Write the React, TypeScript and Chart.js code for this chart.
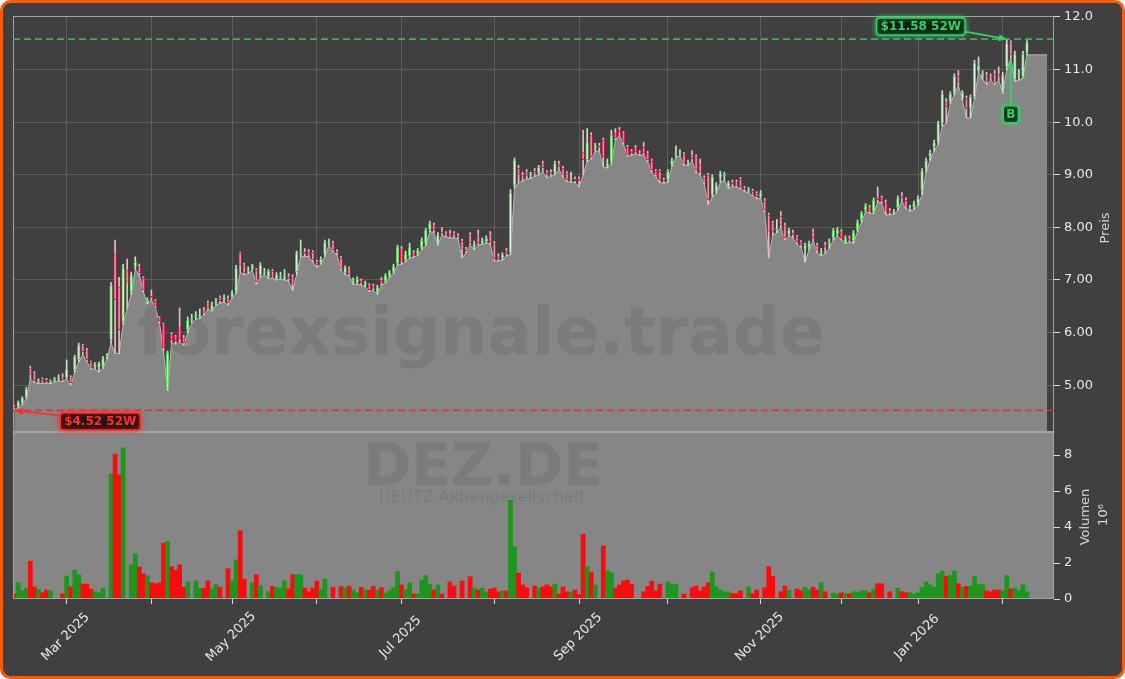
import React, { useEffect, useRef } from 'react';
import { Chart, registerables } from 'chart.js';

Chart.register(...registerables);

// ---------- data (trading-day index 0 = 12 Feb 2025 ... 251 = 10 Feb 2026) ----------
const opens = [
  4.60, 4.59, 4.65, 4.76, 5.33, 5.22, 5.05, 5.12, 5.10, 5.05,
  5.08, 5.12, 5.16, 5.14, 5.15, 5.29, 5.48, 5.76, 5.66, 5.44,
  5.34, 5.33, 5.35, 5.54, 5.86, 7.50, 6.87, 6.20, 7.20, 6.77,
  7.25, 7.25, 7.04, 6.58, 6.70, 6.60, 6.28, 6.16, 4.95, 5.97,
  5.92, 6.10, 5.90, 6.05, 6.22, 6.28, 6.30, 6.42, 6.56, 6.43,
  6.55, 6.66, 6.62, 6.65, 6.68, 6.77, 7.51, 7.29, 7.16, 7.22,
  7.19, 7.10, 7.14, 7.06, 7.17, 7.02, 7.05, 7.03, 7.07, 7.05,
  7.15, 7.50, 7.53, 7.53, 7.53, 7.34, 7.32, 7.48, 7.70, 7.70,
  7.54, 7.42, 7.13, 7.22, 6.95, 6.95, 6.99, 6.90, 6.90, 6.88,
  6.77, 7.00, 6.98, 7.08, 7.16, 7.32, 7.60, 7.38, 7.45, 7.52,
  7.50, 7.61, 7.70, 7.95, 8.04, 7.70, 7.92, 7.88, 7.88, 7.89,
  7.84, 7.74, 7.58, 7.86, 7.61, 7.86, 7.70, 7.72, 7.86, 7.70,
  7.45, 7.42, 7.55, 7.52, 8.80, 9.13, 9.00, 9.05, 8.98, 9.07,
  9.03, 9.22, 9.05, 9.05, 9.03, 9.21, 9.13, 9.03, 8.90, 8.92,
  8.93, 9.43, 9.28, 9.75, 9.50, 9.55, 9.66, 9.16, 9.25, 9.80,
  9.85, 9.79, 9.53, 9.45, 9.52, 9.42, 9.53, 9.41, 9.26, 9.07,
  9.07, 8.90, 8.90, 9.19, 9.37, 9.40, 9.39, 9.22, 9.37, 9.34,
  9.20, 8.94, 9.00, 8.62, 8.68, 8.95, 8.97, 8.77, 8.86, 8.86,
  8.92, 8.75, 8.69, 8.69, 8.65, 8.58, 8.50, 8.24, 8.08, 7.95,
  8.22, 8.04, 7.87, 7.90, 7.82, 7.72, 7.58, 7.62, 7.92, 7.66,
  7.50, 7.66, 7.68, 7.80, 7.88, 7.92, 7.72, 7.81, 7.74, 7.95,
  8.14, 8.33, 8.38, 8.29, 8.57, 8.56, 8.48, 8.32, 8.28, 8.37,
  8.60, 8.52, 8.34, 8.38, 8.46, 8.70, 9.12, 9.34, 9.53, 9.62,
  9.98, 10.38, 10.38, 10.56, 10.88, 10.46, 10.46, 10.27, 10.48, 10.99,
  10.88, 10.90, 10.87, 10.92, 10.92, 10.58, 11.05, 11.50, 10.80, 10.90,
  10.86, 11.32,
];

const highs = [
  4.62, 4.70, 4.78, 4.96, 5.36, 5.26, 5.12, 5.14, 5.13, 5.10,
  5.15, 5.20, 5.22, 5.48, 5.18, 5.57, 5.80, 5.78, 5.70, 5.46,
  5.43, 5.44, 5.55, 5.60, 6.95, 7.76, 7.05, 7.30, 7.40, 7.15,
  7.44, 7.30, 7.06, 6.66, 6.81, 6.63, 6.30, 6.18, 5.65, 6.00,
  5.95, 6.47, 5.95, 6.30, 6.35, 6.40, 6.45, 6.48, 6.60, 6.58,
  6.65, 6.70, 6.72, 6.70, 6.80, 7.28, 7.53, 7.32, 7.25, 7.30,
  7.22, 7.33, 7.22, 7.20, 7.20, 7.14, 7.15, 7.20, 7.12, 7.10,
  7.55, 7.76, 7.60, 7.58, 7.56, 7.38, 7.44, 7.76, 7.78, 7.74,
  7.58, 7.45, 7.27, 7.25, 7.04, 7.06, 7.02, 6.98, 6.93, 6.92,
  6.90, 7.05, 7.12, 7.18, 7.30, 7.66, 7.64, 7.55, 7.70, 7.56,
  7.60, 7.80, 7.98, 8.12, 8.08, 7.90, 8.00, 7.92, 7.95, 7.92,
  7.88, 7.78, 7.62, 7.90, 7.74, 7.95, 7.80, 7.84, 7.92, 7.73,
  7.50, 7.52, 7.60, 8.72, 9.32, 9.18, 9.05, 9.10, 9.05, 9.12,
  9.18, 9.26, 9.08, 9.10, 9.26, 9.26, 9.16, 9.06, 9.05, 8.96,
  8.96, 9.85, 9.88, 9.80, 9.60, 9.60, 9.70, 9.30, 9.85, 9.88,
  9.90, 9.82, 9.56, 9.48, 9.56, 9.46, 9.62, 9.45, 9.30, 9.10,
  9.10, 8.94, 9.10, 9.32, 9.55, 9.48, 9.42, 9.28, 9.46, 9.38,
  9.30, 8.98, 9.03, 9.00, 8.85, 9.07, 9.05, 8.88, 8.90, 8.90,
  8.95, 8.78, 8.76, 8.73, 8.68, 8.70, 8.55, 8.27, 8.12, 8.15,
  8.30, 8.08, 7.98, 7.95, 7.85, 7.75, 7.70, 7.74, 7.97, 7.70,
  7.60, 7.72, 7.78, 7.98, 8.00, 7.96, 7.84, 7.84, 7.94, 8.14,
  8.30, 8.45, 8.42, 8.56, 8.77, 8.60, 8.52, 8.36, 8.34, 8.60,
  8.66, 8.56, 8.42, 8.50, 8.60, 9.12, 9.32, 9.47, 9.66, 10.02,
  10.60, 10.45, 10.58, 10.92, 10.98, 10.60, 10.50, 10.52, 11.18, 11.24,
  10.98, 10.95, 10.92, 10.98, 11.05, 10.95, 11.58, 11.55, 11.35, 11.00,
  11.35, 11.55,
];

const lows = [
  4.52, 4.57, 4.63, 4.74, 5.12, 5.05, 5.03, 5.03, 5.04, 5.03,
  5.06, 5.08, 5.07, 5.12, 5.00, 5.25, 5.45, 5.58, 5.45, 5.30,
  5.31, 5.25, 5.32, 5.50, 5.80, 5.61, 5.60, 6.15, 6.45, 6.72,
  7.20, 7.10, 6.78, 6.55, 6.62, 6.48, 6.18, 5.65, 4.90, 5.80,
  5.78, 5.82, 5.76, 6.00, 6.18, 6.25, 6.27, 6.34, 6.45, 6.41,
  6.52, 6.56, 6.58, 6.52, 6.66, 6.74, 7.15, 7.10, 7.12, 7.18,
  6.92, 7.05, 7.10, 7.03, 7.03, 7.00, 7.02, 7.00, 6.98, 6.80,
  7.10, 7.45, 7.45, 7.44, 7.34, 7.24, 7.30, 7.45, 7.66, 7.54,
  7.48, 7.18, 7.10, 7.08, 6.92, 6.92, 6.90, 6.87, 6.78, 6.80,
  6.73, 6.90, 6.95, 7.05, 7.13, 7.28, 7.30, 7.35, 7.42, 7.43,
  7.47, 7.58, 7.66, 7.92, 7.90, 7.66, 7.85, 7.82, 7.80, 7.80,
  7.78, 7.42, 7.52, 7.66, 7.58, 7.66, 7.68, 7.70, 7.68, 7.36,
  7.36, 7.38, 7.46, 7.48, 8.75, 8.85, 8.88, 8.92, 8.93, 8.97,
  9.00, 9.05, 8.94, 8.97, 9.00, 9.10, 8.96, 8.87, 8.86, 8.85,
  8.77, 9.00, 9.25, 9.30, 9.45, 9.45, 9.15, 9.13, 9.20, 9.66,
  9.75, 9.58, 9.35, 9.37, 9.40, 9.37, 9.38, 9.25, 9.05, 8.97,
  8.85, 8.84, 8.86, 9.16, 9.33, 9.36, 9.18, 9.18, 9.26, 9.05,
  9.00, 8.82, 8.43, 8.58, 8.65, 8.85, 8.90, 8.74, 8.78, 8.76,
  8.74, 8.68, 8.66, 8.60, 8.55, 8.55, 8.30, 7.42, 7.85, 7.90,
  8.00, 7.76, 7.84, 7.80, 7.68, 7.62, 7.34, 7.58, 7.75, 7.52,
  7.46, 7.50, 7.60, 7.76, 7.84, 7.76, 7.70, 7.72, 7.70, 7.92,
  8.10, 8.30, 8.27, 8.26, 8.48, 8.46, 8.24, 8.24, 8.25, 8.33,
  8.50, 8.36, 8.31, 8.34, 8.42, 8.62, 9.05, 9.28, 9.45, 9.58,
  9.92, 9.98, 10.35, 10.52, 10.70, 10.42, 10.08, 10.08, 10.45, 10.95,
  10.82, 10.72, 10.80, 10.72, 10.80, 10.55, 11.00, 11.22, 10.78, 10.80,
  10.84, 11.28,
];

const closes = [
  4.56, 4.68, 4.76, 4.93, 5.20, 5.08, 5.09, 5.05, 5.06, 5.08,
  5.12, 5.14, 5.10, 5.31, 5.04, 5.54, 5.76, 5.63, 5.48, 5.33,
  5.40, 5.42, 5.52, 5.57, 6.90, 6.62, 6.05, 7.23, 6.95, 7.10,
  7.34, 7.13, 6.81, 6.62, 6.66, 6.50, 6.22, 5.70, 5.61, 5.86,
  5.84, 5.88, 5.80, 6.24, 6.26, 6.33, 6.35, 6.37, 6.47, 6.52,
  6.60, 6.60, 6.68, 6.56, 6.76, 7.23, 7.29, 7.13, 7.20, 7.28,
  6.96, 7.29, 7.16, 7.17, 7.06, 7.10, 7.08, 7.08, 7.02, 6.92,
  7.51, 7.53, 7.49, 7.47, 7.38, 7.28, 7.40, 7.72, 7.72, 7.57,
  7.52, 7.22, 7.24, 7.11, 7.00, 7.02, 6.94, 6.95, 6.81, 6.84,
  6.86, 6.94, 7.08, 7.15, 7.25, 7.62, 7.35, 7.50, 7.62, 7.46,
  7.56, 7.76, 7.95, 8.08, 7.95, 7.86, 7.89, 7.86, 7.82, 7.86,
  7.82, 7.58, 7.55, 7.70, 7.70, 7.70, 7.76, 7.80, 7.72, 7.40,
  7.40, 7.48, 7.50, 8.65, 9.28, 9.00, 8.95, 8.98, 9.00, 9.02,
  9.15, 9.13, 9.00, 9.02, 9.22, 9.15, 9.00, 8.90, 8.95, 8.88,
  8.88, 9.28, 9.62, 9.34, 9.55, 9.52, 9.34, 9.22, 9.75, 9.70,
  9.79, 9.62, 9.38, 9.41, 9.43, 9.40, 9.41, 9.28, 9.09, 9.00,
  8.90, 8.88, 9.07, 9.28, 9.41, 9.42, 9.22, 9.24, 9.30, 9.09,
  9.05, 8.86, 8.52, 8.96, 8.80, 9.02, 9.00, 8.85, 8.82, 8.79,
  8.77, 8.72, 8.72, 8.62, 8.58, 8.65, 8.33, 7.92, 7.91, 7.98,
  8.05, 7.80, 7.95, 7.85, 7.72, 7.66, 7.66, 7.70, 7.80, 7.56,
  7.55, 7.62, 7.72, 7.95, 7.95, 7.80, 7.80, 7.75, 7.90, 8.10,
  8.27, 8.40, 8.30, 8.52, 8.52, 8.50, 8.30, 8.28, 8.30, 8.56,
  8.55, 8.40, 8.38, 8.46, 8.56, 9.08, 9.28, 9.43, 9.62, 9.98,
  10.54, 10.29, 10.54, 10.88, 10.76, 10.56, 10.25, 10.48, 11.13, 11.07,
  10.92, 10.76, 10.85, 10.75, 10.85, 10.90, 11.50, 11.28, 11.30, 10.95,
  11.30, 11.52,
];

// volume in millions
const volumes = [
  0.28, 0.9, 0.45, 0.6, 2.1, 0.67, 0.53, 0.35, 0.5, 0.45,
  0, 0, 0.3, 1.28, 0.67, 1.6, 1.33, 0.83, 0.83, 0.55,
  0.4, 0.33, 0.6, 0, 6.93, 8.05, 6.9, 8.4, 0, 1.9,
  2.5, 1.78, 1.39, 1.28, 0.9, 0.85, 0.9, 3.1, 3.2, 1.8,
  1.6, 1.9, 0.65, 0.95, 0, 1.0, 0.6, 0.6, 1.0, 0.55,
  0.8, 0.65, 0, 1.68, 1.0, 2.17, 3.8, 1.1, 0, 0.9,
  1.35, 0.75, 0, 0.4, 0.7, 0.65, 0.6, 1.0, 0.55, 1.35,
  1.35, 1.35, 0.6, 0.4, 0.6, 1.0, 0.55, 1.1, 0, 0.65,
  0, 0.7, 0.6, 0.7, 0.5, 0.35, 0.65, 0.5, 0.5, 0.7,
  0.5, 0.63, 0.33, 0.45, 0.63, 1.52, 0.78, 0.5, 0.9, 0.28,
  0.28, 1.05, 1.3, 0.83, 0.5, 0.78, 0.28, 0, 0.95, 0.72,
  0, 1.0, 0, 1.24, 0.6, 0.5, 0.6, 0.4, 0.55, 0.6,
  0.4, 0.45, 0.45, 5.5, 2.9, 1.43, 0.78, 0.63, 0, 0.72,
  0.6, 0.67, 0.78, 0.67, 0.83, 0.28, 0.67, 0.4, 0.38, 0.5,
  0.25, 3.6, 1.8, 1.5, 0.78, 0, 2.94, 1.56, 1.46, 0.6,
  0.78, 1.0, 1.05, 0.83, 0, 0, 0.4, 0.7, 1.0, 0.45,
  0.83, 0, 0.95, 0.78, 0.83, 0, 0.28, 0, 0.63, 0.72,
  0.45, 0.67, 0.9, 1.5, 0.67, 0.5, 0.4, 0.4, 0.3, 0.3,
  0.45, 0, 0.67, 0.3, 0.5, 0, 0.63, 1.8, 1.25, 0,
  0.4, 0.72, 0.5, 0, 0.55, 0.45, 0.65, 0.5, 0.65, 0.5,
  0.9, 0.4, 0, 0.33, 0.28, 0.35, 0.3, 0.3, 0.4, 0.38,
  0.45, 0.45, 0.35, 0.55, 0.85, 0.85, 0, 0.4, 0, 0.6,
  0.4, 0.35, 0.35, 0.28, 0.35, 0.65, 0.95, 0.8, 0.65, 1.39,
  1.55, 1.25, 1.3, 1.55, 0.85, 0.65, 0.7, 0.7, 1.25, 0.8,
  0.8, 0.45, 0.4, 0.5, 0.5, 0.45, 1.3, 0.55, 0.6, 0.45,
  0.8, 0.4,
];

const monthTickIdx = [13, 34, 54, 75, 96, 119, 140, 162, 185, 205, 224, 245];
const monthTickLabels = ['Mar 2025', '', 'May 2025', '', 'Jul 2025', '', 'Sep 2025', '', 'Nov 2025', '', 'Jan 2026', ''];
const priceTicks = [5, 6, 7, 8, 9, 10, 11, 12];
const priceTickLabels = ['5.00', '6.00', '7.00', '8.00', '9.00', '10.0', '11.0', '12.0'];
const volumeTicks = [0, 2, 4, 6, 8];
const volumeTickLabels = ['0', '2', '4', '6', '8'];

const high52Idx = 246;
const high52 = 11.58;
const low52Idx = 0;
const low52 = 4.52;
const buySignalIdx = [247];
const buySignalPrice = [11.18];
const areaEndIdx = 256;

// ---------- styles ----------
const W = 1125;
const H = 679;
const BG = '#404040';
const ORANGE = '#fa5a0a';
const AREA_FILL = '#868686';
const AREA_LINE = '#b8b8b8';
const GRID = 'rgba(255,255,255,0.15)';
const TICK = '#dcdcdc';
const TICK_TEXT = '#e8e8e8';
const FRAME = '#a4a4a4';
const UP_BORDER = '#56d456';
const UP_FILL = '#dcf3dc';
const DN_BORDER = '#e2164a';
const DN_FILL = '#ff86a2';
const UP_WICK = '#c4e6c4';
const DN_WICK = '#eeb6c4';
const VOL_UP = '#1e961e';
const VOL_DN = '#f70d0d';
const GREEN = '#35d06a';
const RED = '#ff2f2f';
const WATERMARK = 'rgba(60,60,60,0.14)';

function drawArrow(ctx: CanvasRenderingContext2D, x1: number, y1: number, x2: number, y2: number, color: string) {
  const ang = Math.atan2(y2 - y1, x2 - x1);
  const hl = 8;
  const hw = 3.6;
  const bx = x2 - hl * Math.cos(ang);
  const by = y2 - hl * Math.sin(ang);
  ctx.save();
  ctx.strokeStyle = color;
  ctx.fillStyle = color;
  ctx.lineWidth = 1.8;
  ctx.beginPath();
  ctx.moveTo(x1, y1);
  ctx.lineTo(bx, by);
  ctx.stroke();
  ctx.beginPath();
  ctx.moveTo(x2, y2);
  ctx.lineTo(bx + hw * Math.sin(ang), by - hw * Math.cos(ang));
  ctx.lineTo(bx - hw * Math.sin(ang), by + hw * Math.cos(ang));
  ctx.closePath();
  ctx.fill();
  ctx.restore();
}

function drawLabelBox(ctx: CanvasRenderingContext2D, text: string, cx: number, cy: number, color: string, fill: string, padX: number) {
  ctx.save();
  ctx.font = 'bold 12px "DejaVu Sans"';
  const w = ctx.measureText(text).width + padX * 2;
  const h = 17;
  ctx.shadowColor = color;
  ctx.shadowBlur = 5;
  ctx.beginPath();
  ctx.roundRect(cx - w / 2, cy - h / 2, w, h, 3);
  ctx.fillStyle = fill;
  ctx.fill();
  ctx.lineWidth = 1.5;
  ctx.strokeStyle = color;
  ctx.stroke();
  ctx.shadowBlur = 0;
  ctx.fillStyle = color;
  ctx.textAlign = 'center';
  ctx.textBaseline = 'middle';
  ctx.fillText(text, cx, cy + 0.5);
  ctx.restore();
  return w;
}

function rotatedText(ctx: CanvasRenderingContext2D, text: string, x: number, y: number, font: string, color: string) {
  ctx.save();
  ctx.translate(x, y);
  ctx.rotate(-Math.PI / 2);
  ctx.font = font;
  ctx.fillStyle = color;
  ctx.textAlign = 'center';
  ctx.textBaseline = 'middle';
  ctx.fillText(text, 0, 0);
  ctx.restore();
}

const decorPlugin = {
  id: 'decor',
  beforeDraw(chart: any) {
    const ctx = chart.ctx;
    ctx.save();
    ctx.fillStyle = '#ffffff';
    ctx.fillRect(0, 0, W, H);
    ctx.beginPath();
    ctx.roundRect(1.5, 1.5, W - 3, H - 3, 9);
    ctx.fillStyle = BG;
    ctx.fill();
    ctx.lineWidth = 3;
    ctx.strokeStyle = ORANGE;
    ctx.stroke();
    ctx.restore();
  },
  beforeDatasetsDraw(chart: any) {
    const { ctx, chartArea } = chart;
    const yv = chart.scales.yv;
    ctx.save();
    ctx.fillStyle = AREA_FILL;
    ctx.fillRect(chartArea.left, yv.top, chartArea.right - chartArea.left, yv.bottom - yv.top);
    ctx.restore();
  },
  afterDatasetDraw(chart: any, args: any) {
    if (args.index !== 0) return;
    const ctx = chart.ctx;
    ctx.save();
    ctx.fillStyle = WATERMARK;
    ctx.textAlign = 'center';
    ctx.textBaseline = 'alphabetic';
    ctx.font = 'bold 66px "DejaVu Sans"';
    ctx.fillText('forexsignale.trade', 481, 354);
    ctx.font = 'bold 58px "DejaVu Sans"';
    ctx.fillText('DEZ.DE', 483, 485);
    ctx.font = '16px "DejaVu Sans"';
    ctx.fillText('DEUTZ Aktiengesellschaft', 482, 502);
    ctx.restore();
  },
  afterDatasetsDraw(chart: any) {
    const { ctx, chartArea } = chart;
    const xs = chart.scales.x;
    const ys = chart.scales.y;
    const yv = chart.scales.yv;
    const L = chartArea.left;
    const R = chartArea.right;
    ctx.save();
    ctx.strokeStyle = FRAME;
    ctx.lineWidth = 1;
    ctx.strokeRect(L + 0.5, ys.top + 0.5, R - L - 1, ys.bottom - ys.top - 1);
    ctx.strokeRect(L + 0.5, yv.top + 0.5, R - L - 1, yv.bottom - yv.top - 1);

    ctx.setLineDash([7, 4]);
    ctx.lineWidth = 1.8;
    const yh = ys.getPixelForValue(high52);
    ctx.strokeStyle = 'rgba(52,190,100,0.9)';
    ctx.beginPath();
    ctx.moveTo(L, yh);
    ctx.lineTo(R, yh);
    ctx.stroke();
    const yl = ys.getPixelForValue(low52);
    ctx.strokeStyle = 'rgba(215,50,50,0.85)';
    ctx.beginPath();
    ctx.moveTo(L, yl);
    ctx.lineTo(R, yl);
    ctx.stroke();
    ctx.setLineDash([]);
    ctx.restore();

    // 52W high label
    const hx = xs.getPixelForValue(high52Idx);
    const hcx = hx - 86;
    const hcy = yh - 12.5;
    const hw = drawLabelBox(ctx, '$' + high52.toFixed(2) + ' 52W', hcx, hcy, GREEN, '#0c1e12', 4);
    drawArrow(ctx, hcx + hw / 2, hcy + 5, hx, yh, GREEN);

    // 52W low label
    const lx = xs.getPixelForValue(low52Idx);
    const lcx = lx + 86;
    const lcy = yl + 11;
    const lw = drawLabelBox(ctx, '$' + low52.toFixed(2) + ' 52W', lcx, lcy, RED, '#231010', 4);
    drawArrow(ctx, lcx - lw / 2 - 1, lcy - 6, lx + 1, yl, RED);

    // buy signals
    buySignalIdx.forEach((bi, k) => {
      const bx = xs.getPixelForValue(bi);
      const by = ys.getPixelForValue(buySignalPrice[k]);
      const bcy = by + 54;
      drawArrow(ctx, bx, bcy - 9, bx, by, GREEN);
      drawLabelBox(ctx, 'B', bx, bcy, GREEN, '#0c1e12', 3);
    });
  },
  afterDraw(chart: any) {
    const ctx = chart.ctx;
    const xs = chart.scales.x;
    ctx.save();
    ctx.font = '13px "DejaVu Sans"';
    ctx.fillStyle = TICK_TEXT;
    ctx.textAlign = 'center';
    ctx.textBaseline = 'middle';
    monthTickIdx.forEach((v, k) => {
      const lab = monthTickLabels[k];
      if (!lab) return;
      const px = xs.getPixelForValue(v);
      ctx.save();
      ctx.translate(px - 1, 637);
      ctx.rotate(-Math.PI / 4);
      ctx.fillText(lab, 0, 0);
      ctx.restore();
    });
    ctx.restore();
    rotatedText(ctx, 'Preis', 1106, 228, '13px "DejaVu Sans"', '#d6d6d6');
    rotatedText(ctx, 'Volumen', 1086, 517, '13px "DejaVu Sans"', '#d6d6d6');
    rotatedText(ctx, '10⁶', 1104, 515, '13px "DejaVu Sans"', '#d6d6d6');
  },
};

export default function App() {
  const canvasRef = useRef<HTMLCanvasElement | null>(null);

  useEffect(() => {
    const canvas = canvasRef.current;
    if (!canvas) return;
    Chart.defaults.font.family = '"DejaVu Sans", sans-serif';
    Chart.defaults.font.size = 13;

    const up = closes.map((c, i) => c >= opens[i]);
    const areaData: { x: number; y: number }[] = lows.map((v, i) => ({ x: i, y: v }));
    areaData.push({ x: areaEndIdx, y: lows[lows.length - 1] });

    const config: any = {
      type: 'bar',
      data: {
        datasets: [
          {
            type: 'line',
            label: 'area',
            data: areaData,
            yAxisID: 'y',
            borderColor: AREA_LINE,
            borderWidth: 1,
            backgroundColor: AREA_FILL,
            fill: 'start',
            pointRadius: 0,
            tension: 0,
            order: 10,
          },
          {
            type: 'bar',
            label: 'wick',
            data: lows.map((l, i) => ({ x: i, y: [l, highs[i]] })),
            yAxisID: 'y',
            backgroundColor: up.map((u) => (u ? UP_WICK : DN_WICK)),
            barThickness: 1,
            grouped: false,
            order: 5,
          },
          {
            type: 'bar',
            label: 'body',
            data: opens.map((o, i) => ({ x: i, y: [o, closes[i]] })),
            yAxisID: 'y',
            backgroundColor: up.map((u) => (u ? UP_FILL : DN_FILL)),
            borderColor: up.map((u) => (u ? UP_BORDER : DN_BORDER)),
            borderWidth: 1,
            borderSkipped: false,
            barPercentage: 0.78,
            categoryPercentage: 1,
            grouped: false,
            order: 4,
          },
          {
            type: 'bar',
            label: 'volume',
            data: volumes.map((v, i) => ({ x: i, y: v })),
            yAxisID: 'yv',
            backgroundColor: up.map((u) => (u ? VOL_UP : VOL_DN)),
            barPercentage: 1,
            categoryPercentage: 1,
            grouped: false,
            order: 3,
          },
        ],
      },
      options: {
        animation: false,
        responsive: false,
        maintainAspectRatio: false,
        layout: { padding: { left: 13, top: 16, right: 0, bottom: 0 } },
        plugins: { legend: { display: false }, tooltip: { enabled: false } },
        scales: {
          x: {
            type: 'linear',
            min: -0.3,
            max: 257.7,
            bounds: 'data',
            offset: false,
            afterBuildTicks: (s: any) => {
              s.ticks = monthTickIdx.map((v) => ({ value: v }));
            },
            afterFit: (s: any) => {
              s.height = 80;
            },
            ticks: { display: false },
            grid: { color: GRID, tickColor: TICK, tickLength: 5, offset: false, lineWidth: 1 },
            border: { display: false },
          },
          y: {
            type: 'linear',
            position: 'right',
            stack: 'panels',
            stackWeight: 416,
            min: 4.11,
            max: 12.019,
            bounds: 'data',
            beginAtZero: false,
            afterBuildTicks: (s: any) => {
              s.ticks = priceTicks.map((v) => ({ value: v }));
            },
            afterFit: (s: any) => {
              s.width = 71;
            },
            ticks: {
              color: TICK_TEXT,
              padding: 4,
              font: { size: 13 },
              callback: (v: number) => {
                const k = priceTicks.indexOf(v);
                return k >= 0 ? priceTickLabels[k] : '';
              },
            },
            grid: { color: GRID, tickColor: TICK, tickLength: 6 },
            border: { display: false },
          },
          yv: {
            type: 'linear',
            position: 'right',
            stack: 'panels',
            stackWeight: 167,
            min: 0,
            max: 9.28,
            bounds: 'data',
            afterBuildTicks: (s: any) => {
              s.ticks = volumeTicks.map((v) => ({ value: v }));
            },
            afterFit: (s: any) => {
              s.width = 71;
            },
            ticks: {
              color: TICK_TEXT,
              padding: 4,
              font: { size: 13 },
              callback: (v: number) => {
                const k = volumeTicks.indexOf(v);
                return k >= 0 ? volumeTickLabels[k] : '';
              },
            },
            grid: { color: 'rgba(0,0,0,0)', tickColor: TICK, tickLength: 6 },
            border: { display: false },
          },
        },
      },
      plugins: [decorPlugin],
    };

    const chart = new Chart(canvas, config);
    return () => {
      chart.destroy();
    };
  }, []);

  return (
    <div style={{ position: 'absolute', left: 0, top: 0, width: W, height: H }}>
      <canvas ref={canvasRef} width={W} height={H} style={{ display: 'block', width: W, height: H }} />
    </div>
  );
}
